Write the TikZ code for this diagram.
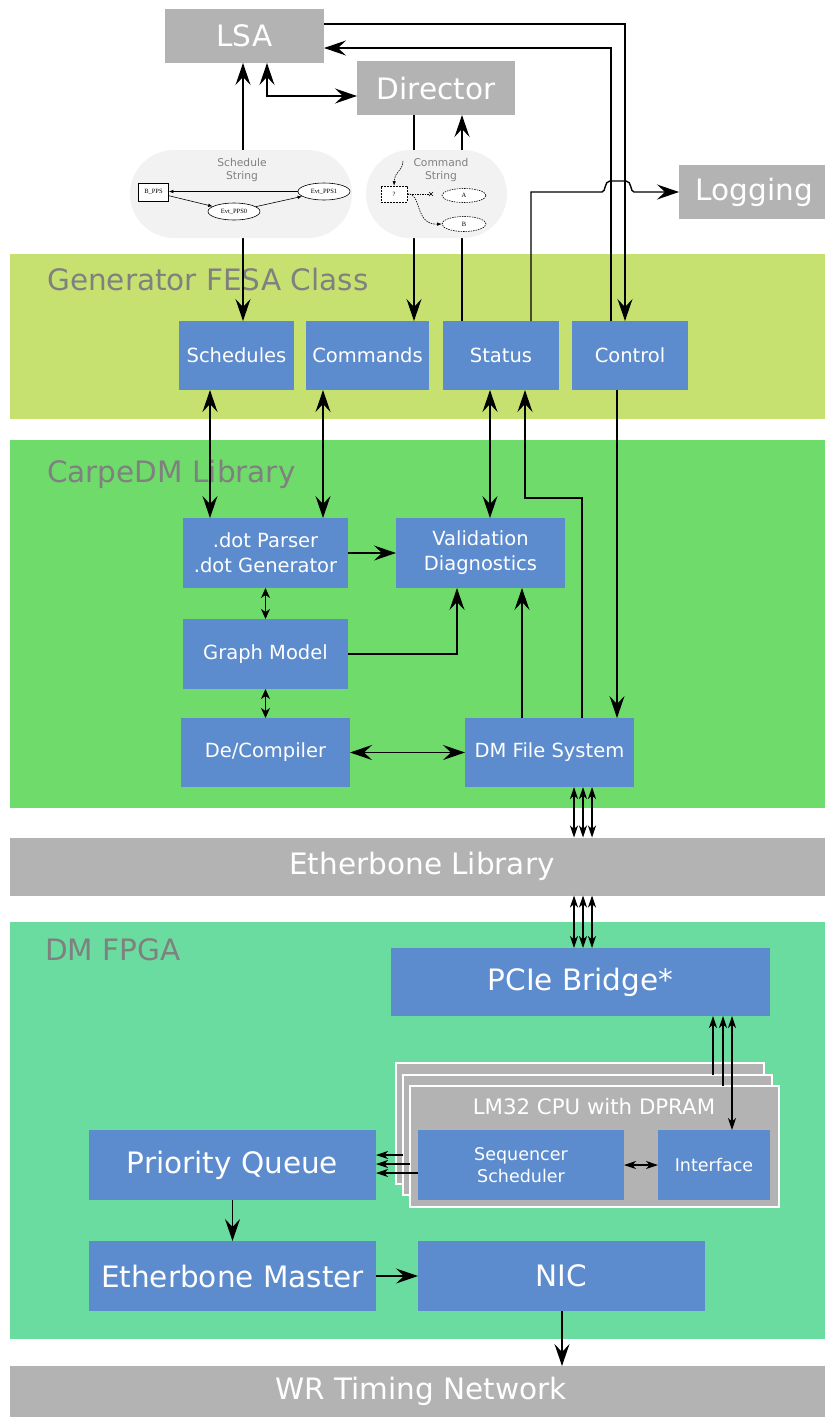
\documentclass[tikz,border=0pt]{standalone}
\usepackage{fontspec}
\setmainfont{DejaVu Sans}
\newfontfamily\dotfont{Liberation Serif}
\usetikzlibrary{arrows.meta,shapes.geometric,calc}

\definecolor{boxblue}{HTML}{5C8CCD}
\definecolor{boxgray}{HTML}{B3B3B3}
\definecolor{fesagreen}{HTML}{C6E170}
\definecolor{carpegreen}{HTML}{6FDB6B}
\definecolor{fpgagreen}{HTML}{6ADCA0}
\definecolor{cloudgray}{HTML}{F2F2F2}
\definecolor{labelgray}{HTML}{808080}

\tikzset{
  sz/.style 2 args={minimum width=#1pt, minimum height=#2pt},
  band/.style={inner sep=0pt, outer sep=0pt},
  gbox/.style={fill=boxgray, text=white, inner sep=0pt, outer sep=0pt,
    font=\fontsize{29.5}{34}\selectfont},
  blk/.style={fill=boxblue, text=white, inner sep=0pt, outer sep=0pt, align=center,
    font=\fontsize{19.5}{25}\selectfont},
  blkbig/.style={blk, font=\fontsize{29.5}{34}\selectfont},
  blksmall/.style={blk, font=\fontsize{17.5}{22}\selectfont},
  cpu/.style={fill=boxgray, draw=white, line width=1.3pt, inner sep=0pt, outer sep=0pt},
  grp/.style={text=labelgray, inner sep=0pt, anchor=base west,
    font=\fontsize{29.5}{34}\selectfont},
  cloudbox/.style={fill=cloudgray, inner sep=0pt, outer sep=0pt, rounded corners=44pt},
  cloudtext/.style={text=labelgray, align=center, inner sep=0pt,
    font=\fontsize{10.7}{13.5}\selectfont},
  dotbox/.style={draw=black, fill=white, line width=0.6pt, inner sep=0pt,
    font=\dotfont\fontsize{6.5}{7}\selectfont},
  dotell/.style={ellipse, draw=black, fill=white, line width=0.6pt, inner sep=0pt,
    font=\dotfont\fontsize{6.5}{7}\selectfont},
  big/.style={draw=black, line width=1.4pt,
    >={Stealth[length=22pt,width=15pt,inset=8pt]}},
  mid/.style={draw=black, line width=1.2pt,
    >={Stealth[length=10pt,width=9pt,inset=3pt]}},
  small/.style={draw=black, line width=1.1pt,
    >={Stealth[length=12pt,width=8pt,inset=3.5pt]}},
  tiny/.style={draw=black, line width=0.6pt,
    >={Latex[length=4.5pt,width=3.5pt]}},
  tdash/.style={dash pattern=on 1.5pt off 1pt},
}

\begin{document}
\begin{tikzpicture}[x=1pt,y=-1pt]
\useasboundingbox (0,0) rectangle (825,1417);

% layer bands
\node[band, fill=fesagreen, sz={815}{165}] (fesa) at (417.5,336.5) {};
\node[band, fill=carpegreen, sz={815}{368}] (carpe) at (417.5,624) {};
\node[gbox, sz={815}{58}] (eth) at (417.5,866.5) {\hspace*{9pt}Etherbone Library};
\node[band, fill=fpgagreen, sz={815}{417}] (fpga) at (417.5,1130.5) {};
\node[gbox, sz={815}{51}] (wr) at (417.5,1391.5) {\hspace*{7pt}WR Timing Network};

\node[grp] (fesalbl) at (47,290) {Generator FESA Class};
\node[grp] (carpelbl) at (47,482) {CarpeDM Library};
\node[grp] (fpgalbl) at (45,960) {DM FPGA};

% external systems
\node[gbox, sz={159}{54}] (lsa) at (244.5,36) {LSA};
\node[gbox, sz={158}{54}] (director) at (436,88) {Director};
\node[gbox, sz={146}{54}] (logging) at (752,192) {\hspace*{5pt}Logging};

% FESA class
\node[blk, sz={115}{69}] (sched) at (236.5,355.5) {Schedules};
\node[blk, sz={123}{69}] (cmds) at (367.5,355.5) {Commands};
\node[blk, sz={116}{69}] (status) at (501,355.5) {Status};
\node[blk, sz={116}{69}] (control) at (630,355.5) {Control};

% CarpeDM library
\node[blk, sz={165}{70}] (parser) at (265.5,553) {.dot Parser\\.dot Generator};
\node[blk, sz={169}{70}] (valid) at (480.5,553) {Validation\\Diagnostics};
\node[blk, sz={165}{70}] (graph) at (265.5,654) {Graph Model};
\node[blk, sz={169}{69}] (decomp) at (265.5,752.5) {De/Compiler};
\node[blk, sz={169}{69}] (dmfs) at (549.5,752.5) {DM File System};

% FPGA
\node[blkbig, sz={379}{68}] (pcie) at (580.5,982) {PCIe Bridge*};
\node[cpu, sz={368}{121}] (lmback) at (580,1123.5) {};
\node[cpu, sz={369}{120}] (lmmid) at (587.5,1135) {};
\node[cpu, sz={369}{121}] (lmfront) at (594.5,1146.5) {};
\node[text=white, inner sep=0pt, font=\fontsize{21.3}{25}\selectfont] (lmlbl) at (594,1107) {LM32 CPU with DPRAM};
\node[blksmall, sz={206}{70}] (seq) at (521,1165) {Sequencer\\Scheduler};
\node[blksmall, sz={112}{70}] (iface) at (714,1165) {Interface};
\node[blkbig, sz={287}{70}] (pq) at (232.5,1165) {Priority Queue};
\node[blkbig, sz={287}{70}] (em) at (232.5,1276) {Etherbone Master};
\node[blkbig, sz={287}{70}] (nic) at (561.5,1276) {NIC};

% connectors above the FESA class (partly hidden by the string clouds)
\draw[big,<->] (243,0 |- lsa.south) -- (243,0 |- sched.north);
\draw[big,<->] (267,0 |- lsa.south) |- (director.west |- 0,96);
\draw[big,->] (414,0 |- director.south) -- (414,0 |- cmds.north);
\draw[big,->] (462,0 |- status.north) -- (462,0 |- director.south);
\draw[big,->] (lsa.east |- 0,24) -| (625,0 |- control.north);
\draw[big,->] (611,0 |- control.north) |- (lsa.east |- 0,48);
\draw[big,->] (531,0 |- status.north) -- (531,192) -- (602,192)
  .. controls (606,192) and (604,181) .. (610,181) -- (626,181)
  .. controls (632,181) and (630,192) .. (634,192) -- (logging.west);

% schedule string cloud
\node[cloudbox, sz={222}{88}] (schedcloud) at (241,194) {};
\node[cloudtext] (schedtxt) at (242,170) {Schedule\\String};
\node[dotbox, sz={30}{18}] (bpps) at (153.5,192) {B\_PPS};
\node[dotell, sz={52}{17}] (pps1) at (324,191.5) {Evt\_PPS1};
\node[dotell, sz={52}{17}] (pps0) at (234,211.5) {Evt\_PPS0};
\draw[tiny,->] (pps1.west) -- (bpps.east |- pps1.west);
\draw[tiny,->] (bpps) -- (pps0);
\draw[tiny,->] (pps0) -- (pps1);

% command string cloud
\node[cloudbox, sz={141}{88}] (cmdcloud) at (436.5,194) {};
\node[cloudtext] (cmdtxt) at (441,170) {Command\\String};
\node[dotbox, dash pattern=on 2pt off 1pt, sz={26}{16}] (qbox) at (394,194) {?};
\node[dotell, tdash, sz={44}{14}] (aell) at (464,195.5) {A};
\node[dotell, tdash, sz={44}{15}] (bell) at (464,224) {B};
\coordinate (qin) at (403,161);
\coordinate (xend) at (431,194);
\draw[tiny,tdash,->] (qin) .. controls (402,173) and (395,170) .. (qbox.north);
\draw[tiny,tdash] (qbox.east |- xend) -- (xend);
\draw[tiny] (xend) +(-2,-2) -- +(2,2) +(-2,2) -- +(2,-2);
\draw[tiny,tdash,->] (qbox.east) .. controls (422,192) and (414,225) .. (bell.west);

% FESA class <-> CarpeDM library
\draw[big,<->] (210,0 |- sched.south) -- (210,0 |- parser.north);
\draw[big,<->] (323,0 |- cmds.south) -- (323,0 |- parser.north);
\draw[big,<->] (490,0 |- status.south) -- (490,0 |- valid.north);
\draw[big,->] (582,0 |- dmfs.north) |- (525,498) -- (525,0 |- status.south);
\draw[big,->] (617,0 |- control.south) -- (617,0 |- dmfs.north);

% inside CarpeDM library
\draw[big,->] (parser.east) -- (valid.west);
\draw[mid,<->] (parser.south) -- (graph.north);
\draw[mid,<->] (graph.south) -- (decomp.north);
\draw[big,->] (graph.east) -| (457,0 |- valid.south);
\draw[big,->] (522,0 |- dmfs.north) -- (522,0 |- valid.south);
\draw[big,<->] (decomp.east) -- (dmfs.west);

% Etherbone links
\foreach \xx in {574,583,592} {
  \draw[small,<->] (\xx,0 |- dmfs.south) -- (\xx,0 |- eth.north);
  \draw[small,<->] (\xx,0 |- eth.south) -- (\xx,0 |- pcie.north);
}

% FPGA internals
\draw[small,->] (713,0 |- lmmid.north) -- (713,0 |- pcie.south);
\draw[small,->] (723,0 |- lmfront.north) -- (723,0 |- pcie.south);
\draw[small,<->] (732,0 |- iface.north) -- (732,0 |- pcie.south);
\draw[small,<->] (seq.east) -- (iface.west);
\draw[small,->] (lmmid.west |- 0,1155) -- (pq.east |- 0,1155);
\draw[small,->] (lmfront.west |- 0,1164) -- (pq.east |- 0,1164);
\draw[small,->] (seq.west |- 0,1173) -- (pq.east |- 0,1173);
\draw[big,->] (pq.south) -- (em.north);
\draw[big,->] (em.east) -- (nic.west);
\draw[big,->] (562,0 |- nic.south) -- (562,0 |- wr.north);
\end{tikzpicture}
\end{document}
